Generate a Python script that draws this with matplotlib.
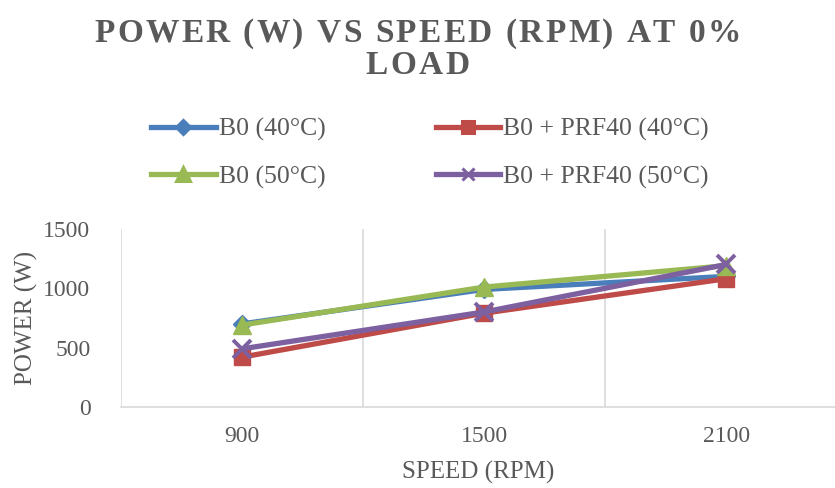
import numpy as np
import matplotlib.pyplot as plt
from matplotlib.lines import Line2D

plt.rcParams['font.family'] = ['Liberation Serif', 'DejaVu Serif']

# data
speeds = ['900', '1500', '2100']
b0_40 = [700, 990, 1100]
prf_40 = [420, 790, 1080]
b0_50 = [690, 1010, 1190]
prf_50 = [490, 800, 1200]

grey = '#595959'
colors = ['#4a7ebb', '#be4b48', '#98b954', '#7d60a0']
x = np.arange(len(speeds))


def spaced_text(fig, xc, y, s, gap, **kw):
    # draw a string char by char with extra letter spacing (px), centred at xc
    r = fig.canvas.get_renderer()
    def width(txt):
        t = fig.text(0, 0, txt, **kw)
        w = t.get_window_extent(r).width
        t.remove()
        return w
    sp = width('a a') - width('aa')
    ws = [sp if ch == ' ' else width(ch) for ch in s]
    total = sum(ws) + gap * (len(s) - 1)
    W = fig.get_figwidth() * fig.dpi
    pos = xc * W - total / 2
    for ch, w in zip(s, ws):
        if ch != ' ':
            fig.text(pos / W, y, ch, ha='left', va='center', **kw)
        pos += w + gap


fig = plt.figure(figsize=(8.35, 4.88), dpi=100)
ax = fig.add_axes([0.145, 0.166, 0.855, 0.365])

ax.plot(x, b0_40, color=colors[0], lw=3.8, marker='D', ms=9)
ax.plot(x, prf_40, color=colors[1], lw=3.8, marker='s', ms=12)
ax.plot(x, b0_50, color=colors[2], lw=3.8, marker='^', ms=13)
ax.plot(x, prf_50, color=colors[3], lw=3.8, marker='x', ms=13, mew=2.8)

ax.set_xlim(-0.5, 2.45)
ax.set_ylim(0, 1500)
ax.set_yticks([0, 500, 1000, 1500])
ax.set_xticks(x)
ax.set_xticklabels(speeds)
ax.set_xticks([-0.5, 0.5, 1.5], minor=True)
ax.grid(True, which='minor', axis='x', color='#d9d9d9', lw=1.2)
ax.tick_params(which='both', length=0)
ax.tick_params(axis='y', labelsize=17, labelcolor=grey, pad=22)
ax.tick_params(axis='x', labelsize=17, labelcolor=grey, pad=14)
for s in ['top', 'right', 'left']:
    ax.spines[s].set_visible(False)
ax.spines['bottom'].set_color('#d9d9d9')
ax.spines['bottom'].set_linewidth(1.2)

ax.set_xlabel('SPEED (RPM)', fontsize=18, color=grey, labelpad=10)
ax.set_ylabel('POWER (W)', fontsize=18, color=grey, labelpad=4)

spaced_text(fig, 0.5, 0.932, 'POWER (W) VS SPEED (RPM) AT 0%', 2.4,
            fontsize=24, fontweight='bold', color=grey)
spaced_text(fig, 0.5, 0.866, 'LOAD', 2.4, fontsize=24, fontweight='bold', color=grey)

labels = ['B0 (40°C)', 'B0 + PRF40 (40°C)', 'B0 (50°C)', 'B0 + PRF40 (50°C)']
mk = [('D', 7), ('s', 9), ('^', 10), ('x', 9)]
handles = [Line2D([], [], color=c, lw=3.8, marker=m, ms=s, mew=2.2) for c, (m, s) in zip(colors, mk)]
# legend fills column-wise, reference reads row-wise
order = [0, 2, 1, 3]
fig.legend([handles[i] for i in order], [labels[i] for i in order], loc='center',
           bbox_to_anchor=(0.515, 0.686), ncol=2, frameon=False, fontsize=18.5,
           labelcolor=grey, handlelength=2.5, handletextpad=0.12,
           columnspacing=4.3, labelspacing=0.95)

fig.savefig('out.png', dpi=100)
